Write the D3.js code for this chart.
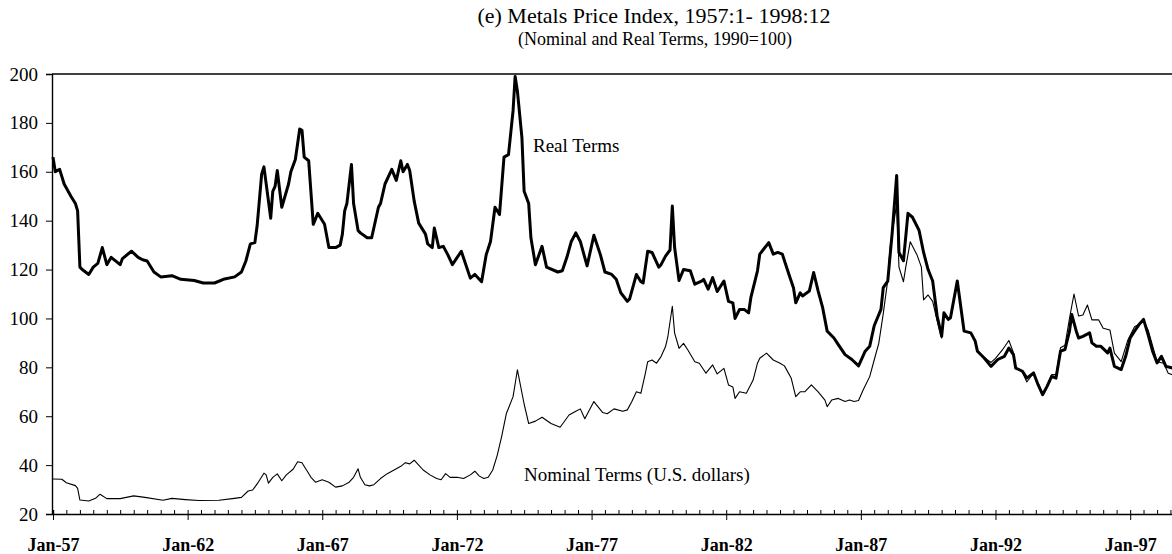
<!DOCTYPE html>
<html>
<head>
<meta charset="utf-8">
<script src="https://cdn.jsdelivr.net/npm/d3@7"></script>
<style>
  body { margin: 0; background: #fff; }
  text { font-family: "Liberation Serif", "Times New Roman", serif; fill: #000; }
</style>
</head>
<body>
<script>
// chart size
var width = 1172;
var height = 554;

// months counted from Jan-1957 (1990=100)
var realMonths = [0,1,3,5,8,10,11,12,13,16,18,20,22,24,26,30,31,35,38,40,42,45,48,53,57,63,67,72,76,81,84,86,88,90,91,93,94,97,98,99,100,102,105,106,108,110,111,112,114,116,118,121,123,126,128,129,130,131,133,134,136,137,140,142,145,146,148,151,153,155,156,158,159,161,163,166,167,169,170,172,174,176,178,182,186,188,191,193,195,197,199,201,203,205,206,207,209,210,212,213,215,218,220,225,227,229,231,233,235,238,241,244,246,249,251,253,256,257,260,262,263,265,267,270,271,273,275,276,277,279,281,284,286,289,290,292,294,296,299,301,303,304,306,308,310,311,314,315,319,321,323,325,326,328,330,331,333,334,337,339,341,343,345,348,350,353,356,359,362,364,366,369,370,372,374,376,377,379,381,383,386,388,390,392,394,396,397,399,400,403,406,409,411,412,415,418,421,424,426,428,429,432,434,437,439,441,443,445,447,449,451,453,454,456,457,459,462,463,465,467,470,471,473,476,478,480,482,484,486,488,490,492,494,496,499,503];
var realValues = [166,160,161,155,150,147,144,121,120,118,121,122.5,129,122,125,122,124.5,127.5,125,124,123.5,119,117,117.5,116,115.5,114.5,114.5,116,117,119,123.5,130.5,131,138,159,162,141,152,154,160.5,145.5,155,160,165,177.5,177,166,164.5,138.5,143,138.5,129,129,130,134.5,144,147,163,147,136,135,133,133,145.5,147,155,161,156.5,164.5,160,163,160.5,148,139,134.5,130.5,129,137,129,129.5,126,122,127.5,116.5,118,115,126,131.5,145.5,142.5,166,167,185,199,193,174,152,147,133,122,129.5,121,119,119.5,125,131.5,135,131.5,121.5,134,126,119,118,116,110.5,107,108,118,115,114.5,127.5,127,121,122,125.5,128,146,129,115.5,120,119.5,114,115.3,116,112,116.7,111,115.3,107,106.4,100,103.7,103.7,102.3,108.5,119.5,126.3,131,126.3,127,126.3,123.6,118,112.6,106.4,110.5,109.2,111.2,118.8,111.2,104.4,94.8,92,89.3,85.2,83.2,80.6,86.6,88.6,97,103.7,112.6,115.3,135,158.5,127,123.6,143,141.4,136,127,120,115.3,101,92.7,102.3,99.6,100.3,115.3,94.8,94.1,90.7,86.6,83.8,80.4,83.2,84.5,87.9,85.2,79.7,78.4,75.6,77.7,72.9,68.8,72.2,76.3,75.6,86.6,87.3,94.8,101.6,94.8,92,92.7,94.1,90,88.6,88.6,85.9,87.9,80.4,79.1,84.5,92,94.8,97.5,99.6,93.4,86.6,81.8,84.5,80.4,79.7,78];

var nominalMonths = [0,4,6,10,11,12,16,19,21,24,30,36,41,49,53,59,65,74,80,84,87,89,91,94,95,96,98,100,102,104,107,109,111,113,115,117,120,123,126,129,132,134,136,137,139,141,143,146,149,152,155,157,159,161,163,165,168,171,173,175,177,180,183,186,188,190,192,194,196,198,200,202,205,207,210,212,215,218,222,226,230,233,235,237,241,245,247,250,254,256,258,260,262,264,265,267,269,271,273,274,276,277,279,281,283,286,288,290,291,294,296,299,301,303,304,306,309,312,314,315,318,321,324,326,329,331,333,335,338,341,344,345,347,350,353,355,357,359,361,364,366,368,370,372,373,376,377,379,380,382,385,387,388,390,392,394,396,397,399,400,403,406,409,411,412,415,418,420,423,426,428,429,432,434,437,439,441,443,445,447,449,451,453,455,457,459,461,463,466,468,471,473,476,479,482,486,488,492,495,497,499,503];
var nominalValues = [34.3,34.2,32.8,31.6,30.5,25.7,25.3,26.4,28.1,26.3,26.3,27.4,26.8,25.6,26.4,25.9,25.5,25.6,26.3,26.8,29.4,29.8,32.3,36.7,36,32.6,35,36.4,33.6,36,38.3,41.4,41,38,35,33,34,33,31,31.5,33,35,38.5,35,32,31.5,32,34.5,36.5,38,39.5,41,40.5,42,40,38,36,34.5,34,36.5,35,35,34.5,36,37.5,35.5,34.5,35,38,44,52,61,68,79,65,57,58,59.6,57,55.5,60.5,62,63,59,66,61.5,61,63,62,62.6,66,70,69.4,77.6,82.3,83,81.7,84.4,88.5,92.5,105,94,87.8,89.8,87,82.3,81.7,79,77.6,81,77.3,79.6,72.8,72,67.3,70,69.4,74.8,81.7,83.7,85.8,83,81.7,80.6,75.5,68,70,70,72.8,70,66.6,63.9,66.6,67.3,66,66.6,66,66.4,70.7,76.2,83,89.8,102,115.7,129,147,121,115,121,131.4,126,121,107.6,109.6,107,99,92,101,99.6,100,115,95,94,91,87,84,82,83.7,87,91,86,80,78,74,77.7,72.9,69,72.5,77,77,88,89,100,110,101,101.4,105.5,99.4,99.4,96,95.3,85.8,82.3,91.2,96.6,98.7,95.3,82.3,81.7,77.6,76.9,77];

var yTicks = [20,40,60,80,100,120,140,160,180,200];
var majorYears = [1957,1962,1967,1972,1977,1982,1987,1992,1997];

var title = "(e) Metals Price Index, 1957:1- 1998:12";
var subtitle = "(Nominal and Real Terms, 1990=100)";

function toDate(m) { return new Date(1957, m, 1); }

var realData = realMonths.map(function(m, i) { return {date: toDate(m), value: realValues[i]}; });
var nominalData = nominalMonths.map(function(m, i) { return {date: toDate(m), value: nominalValues[i]}; });

var svg = d3.select('body').append('svg')
  .attr('width', width).attr('height', height);

var x = d3.scaleTime()
  .domain([new Date(1957, 0, 1), new Date(1999, 0, 1)])
  .range([53, 1184]);

var y = d3.scaleLinear().domain([20, 200]).range([514, 74]);

// titles
svg.append('text').attr('x', 654).attr('y', 23).attr('text-anchor', 'middle')
  .style('font-size', '22px').text(title);
svg.append('text').attr('x', 655).attr('y', 45).attr('text-anchor', 'middle')
  .style('font-size', '18px').text(subtitle);

// top frame line
svg.append('line').attr('x1', 52).attr('x2', width)
  .attr('y1', y(200)).attr('y2', y(200))
  .attr('stroke', '#000').attr('stroke-width', 1.4);

// y axis
var yAxis = svg.append('g').attr('transform', 'translate(52,0)')
  .call(d3.axisLeft(y).tickValues(yTicks).tickSize(6).tickPadding(8));
yAxis.select('.domain').attr('stroke-width', 1.4);
yAxis.selectAll('text').style('font-size', '19px')
  .style('font-family', '"Liberation Serif", serif');

// x axis: half-year ticks pointing up, 5-year ticks pointing down with labels
var minor = svg.append('g').attr('transform', 'translate(0,' + y(20) + ')')
  .call(d3.axisBottom(x).ticks(d3.timeMonth.every(6)).tickSize(-4).tickFormat(''));
minor.select('.domain').attr('stroke-width', 1.4);

var major = svg.append('g').attr('transform', 'translate(0,' + y(20) + ')')
  .call(d3.axisBottom(x)
    .tickValues(majorYears.map(function(yr) { return new Date(yr, 0, 1); }))
    .tickSize(6).tickPadding(18)
    .tickFormat(d3.timeFormat('%b-%y')));
major.select('.domain').remove();
major.selectAll('text').style('font-size', '18px').style('font-weight', 'bold')
  .style('font-family', '"Liberation Serif", serif');

// lines
var line = d3.line()
  .x(function(d) { return x(d.date); })
  .y(function(d) { return y(d.value); });

svg.append('path').datum(nominalData)
  .attr('d', line).attr('fill', 'none')
  .attr('stroke', '#000').attr('stroke-width', 1.1)
  .attr('stroke-linejoin', 'round');

svg.append('path').datum(realData)
  .attr('d', line).attr('fill', 'none')
  .attr('stroke', '#000').attr('stroke-width', 3)
  .attr('stroke-linejoin', 'round');

// series labels
svg.append('text').attr('x', 533).attr('y', 152)
  .style('font-size', '19px').text('Real Terms');
svg.append('text').attr('x', 524).attr('y', 481)
  .style('font-size', '19px').text('Nominal Terms (U.S. dollars)');
</script>
</body>
</html>
